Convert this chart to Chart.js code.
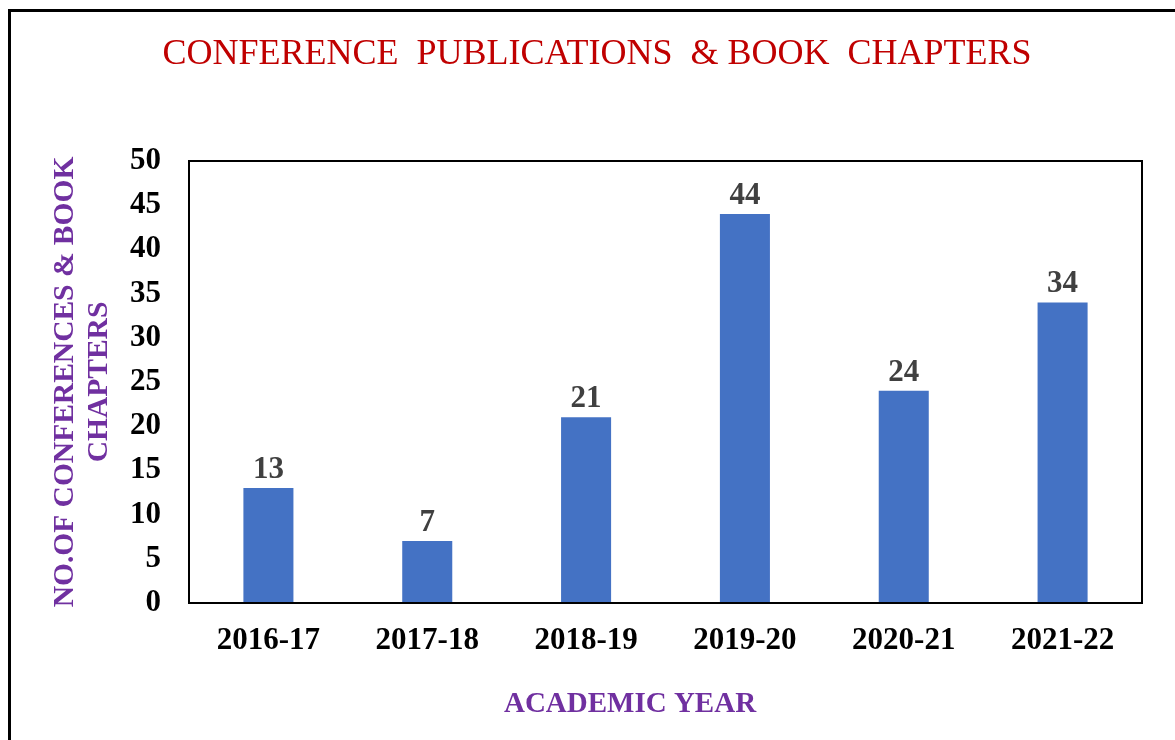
<!DOCTYPE html>
<html>
<head>
<meta charset="utf-8">
<script src="https://cdn.jsdelivr.net/npm/chart.js@4.4.0/dist/chart.umd.min.js"></script>
<style>
  html, body { margin: 0; padding: 0; background: #fff; overflow: hidden; }
  #wrap { position: relative; width: 1175px; height: 740px; }
  #frame { position: absolute; left: 8px; top: 9px; width: 1300px; height: 900px; border: 3px solid #000; box-sizing: border-box; }
  canvas { position: absolute; left: 0; top: 0; }
</style>
</head>
<body>
<div id="wrap">
  <div id="frame"></div>
  <canvas id="c" width="1175" height="740"></canvas>
</div>
<script>
// data
let years = ['2016-17', '2017-18', '2018-19', '2019-20', '2020-21', '2021-22'];
let counts = [13, 7, 21, 44, 24, 34];
let yTicks = [0, 5, 10, 15, 20, 25, 30, 35, 40, 45, 50];

let serif = "'Liberation Serif', 'Times New Roman', serif";

// title, box round plot area, bar labels, x axis title
let extras = {
    id: 'extras',
    afterDatasetsDraw(chart) {
        let ctx = chart.ctx;
        let meta = chart.getDatasetMeta(0);
        ctx.save();
        ctx.font = 'bold 31px ' + serif;
        ctx.fillStyle = '#404040';
        ctx.textAlign = 'center';
        ctx.textBaseline = 'alphabetic';
        meta.data.forEach((bar, i) => {
            ctx.fillText(String(counts[i]), bar.x, bar.y - 10);
        });
        ctx.restore();
    },
    afterDraw(chart) {
        let ctx = chart.ctx;
        let a = chart.chartArea;
        ctx.save();
        ctx.strokeStyle = '#000';
        ctx.lineWidth = 2;
        ctx.strokeRect(a.left, a.top, a.right - a.left, a.bottom - a.top);

        ctx.textAlign = 'center';
        ctx.textBaseline = 'middle';
        ctx.font = '36px ' + serif;
        ctx.fillStyle = '#C00000';
        ctx.fillText('CONFERENCE  PUBLICATIONS  & BOOK  CHAPTERS', 597, 55);

        ctx.font = 'bold 29px ' + serif;
        ctx.fillStyle = '#7030A0';
        ctx.fillText('ACADEMIC YEAR', a.left + 441, 705);
        ctx.restore();
    }
};

new Chart(document.getElementById('c'), {
    type: 'bar',
    data: {
        labels: years,
        datasets: [{
            data: counts,
            backgroundColor: '#4472C4',
            borderWidth: 0,
            barPercentage: 0.315,
            categoryPercentage: 1
        }]
    },
    options: {
        responsive: false,
        animation: false,
        layout: { padding: { left: 20, top: 161, right: 33, bottom: 0 } },
        plugins: {
            legend: { display: false },
            tooltip: { enabled: false },
            title: { display: false }
        },
        scales: {
            x: {
                grid: { display: false, drawTicks: false },
                border: { display: false },
                ticks: {
                    color: '#000',
                    font: { family: serif, size: 31, weight: 'bold' },
                    padding: 19,
                    maxRotation: 0
                },
                afterFit(scale) { scale.height = 137; }
            },
            y: {
                min: 0,
                max: 50,
                afterBuildTicks(scale) { scale.ticks = yTicks.map(v => ({ value: v })); },
                grid: { display: false, drawTicks: false },
                border: { display: false },
                ticks: {
                    color: '#000',
                    font: { family: serif, size: 31, weight: 'bold' },
                    padding: 28
                },
                title: {
                    display: true,
                    text: ['NO.OF CONFERENCES & BOOK', 'CHAPTERS'],
                    color: '#7030A0',
                    font: { family: serif, size: 29.5, weight: 'bold', lineHeight: 1.15 },
                    padding: { top: 28, bottom: 0 }
                },
                afterFit(scale) { scale.width = 169; }
            }
        }
    },
    plugins: [extras]
});
</script>
</body>
</html>
